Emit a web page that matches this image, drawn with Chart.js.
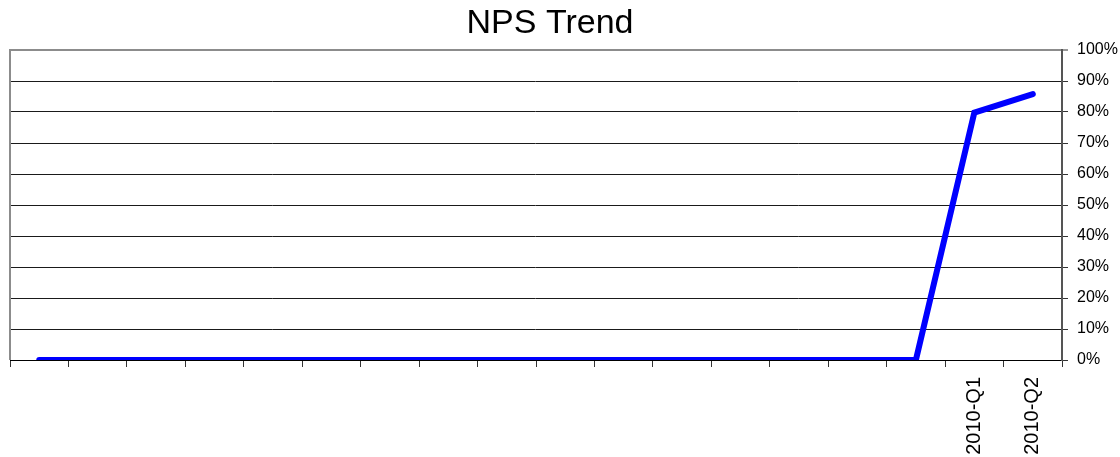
<!DOCTYPE html>
<html>
<head>
<meta charset="utf-8">
<title>NPS Trend</title>
<script src="https://cdn.jsdelivr.net/npm/chart.js@4/dist/chart.umd.min.js"></script>
<style>
  html, body { margin: 0; padding: 0; background: #ffffff; }
  #wrap { width: 1120px; height: 457px; }
</style>
</head>
<body>
<div id="wrap"><canvas id="nps" width="1120" height="457"></canvas></div>
<script>
const chartTitle = 'NPS Trend';

// Quarter labels: only the two most recent quarters carry a name
const categories = [
  '', '', '', '', '', '', '', '', '', '', '', '', '', '', '', '',
  '2010-Q1', '2010-Q2'
];

// Net Promoter Score per quarter, in percent
const npsValues = [
  0, 0, 0, 0, 0, 0, 0, 0, 0, 0, 0, 0, 0, 0, 0, 0,
  79.8, 85.8
];

// Value axis range and step, in percent
const yMin = 0;
const yMax = 100;
const yStep = 10;

const FONT = "'Liberation Sans', Arial, sans-serif";

// Heading above the plot, set slightly left of the canvas centre
const heading = {
  id: 'heading',
  afterDraw(chart) {
    const { ctx } = chart;
    ctx.save();
    ctx.fillStyle = '#000000';
    ctx.font = '34px ' + FONT;
    ctx.textAlign = 'center';
    ctx.textBaseline = 'alphabetic';
    ctx.fillText(chartTitle, chart.width / 2 - 10, 33);
    ctx.restore();
  }
};

// Grey frame on the left edge of the plot area
const frameLeft = {
  id: 'frameLeft',
  afterDatasetsDraw(chart) {
    const { ctx, chartArea } = chart;
    ctx.save();
    ctx.strokeStyle = '#8c8c8c';
    ctx.lineWidth = 2;
    ctx.beginPath();
    ctx.moveTo(chartArea.left, chartArea.top - 1);
    ctx.lineTo(chartArea.left, chartArea.bottom);
    ctx.stroke();
    ctx.restore();
  }
};

new Chart(document.getElementById('nps'), {
  type: 'line',
  data: {
    labels: categories,
    datasets: [{
      label: 'NPS',
      data: npsValues,
      borderColor: '#0000ff',
      backgroundColor: '#0000ff',
      borderWidth: 6,
      borderCapStyle: 'round',
      borderJoinStyle: 'miter',
      pointRadius: 0,
      pointHoverRadius: 0,
      tension: 0,
      fill: false
    }]
  },
  options: {
    responsive: false,
    animation: false,
    devicePixelRatio: 1,
    layout: { padding: { left: 10, right: 0, top: 50, bottom: 0 } },
    plugins: {
      legend: { display: false },
      tooltip: { enabled: false },
      title: { display: false }
    },
    scales: {
      x: {
        type: 'category',
        offset: true,
        afterFit(scale) { scale.height = 97; },
        border: { display: true, color: '#000000', width: 1 },
        grid: {
          offset: true,
          drawOnChartArea: false,
          drawTicks: true,
          tickLength: 7,
          tickColor: '#333333',
          tickWidth: 1
        },
        ticks: {
          autoSkip: false,
          minRotation: 90,
          maxRotation: 90,
          padding: 10,
          color: '#000000',
          font: { family: FONT, size: 20 }
        }
      },
      y: {
        position: 'right',
        min: yMin,
        max: yMax,
        afterFit(scale) { scale.width = 58; },
        border: { display: true, color: '#555555', width: 2 },
        grid: {
          color: (c) => (c.tick && c.tick.value === yMax) ? '#8c8c8c' : '#1a1a1a',
          lineWidth: (c) => (c.tick && c.tick.value === yMax) ? 2 : 1,
          tickLength: 6,
          tickColor: '#333333',
          tickWidth: 1
        },
        ticks: {
          stepSize: yStep,
          padding: 9,
          color: '#000000',
          font: { family: FONT, size: 16 },
          callback: (v) => v + '%'
        }
      }
    }
  },
  plugins: [frameLeft, heading]
});
</script>
</body>
</html>
